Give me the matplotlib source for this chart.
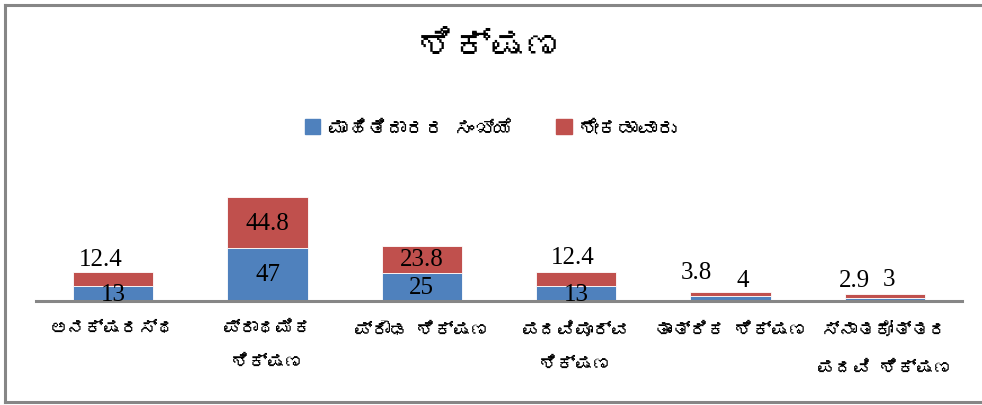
import numpy as np
import matplotlib
matplotlib.use("Agg")
import matplotlib.pyplot as plt
from matplotlib import font_manager
from matplotlib.ft2font import FT2Font
from matplotlib.patches import Rectangle
from matplotlib.lines import Line2D

# data
title = "ಶಿಕ್ಷಣ"
series_names = ["ಮಾಹಿತಿದಾರರ ಸಂಖ್ಯೆ", "ಶೇಕಡಾವಾರು"]
categories = ["ಅನಕ್ಷರಸ್ಥ", "ಪ್ರಾಥಮಿಕ\nಶಿಕ್ಷಣ", "ಪ್ರೌಢ ಶಿಕ್ಷಣ",
              "ಪದವಿಪೂರ್ವ\nಶಿಕ್ಷಣ", "ತಾಂತ್ರಿಕ ಶಿಕ್ಷಣ", "ಸ್ನಾತಕೋತ್ತರ\nಪದವಿ ಶಿಕ್ಷಣ"]
count = [13, 47, 25, 13, 4, 3]
percent = [12.4, 44.8, 23.8, 12.4, 3.8, 2.9]

# find a font that has Kannada glyphs, if any is installed
kn_font = None
for f in font_manager.fontManager.ttflist:
    try:
        if ord("ಶ") in FT2Font(f.fname).get_charmap():
            kn_font = f.name
            break
    except Exception:
        pass
kn_family = [kn_font, "DejaVu Sans"] if kn_font else ["DejaVu Sans"]
num_family = ["Liberation Serif", "DejaVu Serif"]

blue = "#4f81bd"
red = "#c0504d"
grey = "#868686"

fig = plt.figure(figsize=(9.82, 4.06), dpi=100)
# plot area in pixels: x 36..962, baseline at y=302
W, H = 982, 406
ax = fig.add_axes([36 / W, (H - 302) / H, 926 / W, 113 / H])
x = np.arange(len(categories))
ax.bar(x, count, width=0.52, color=blue, edgecolor="white", linewidth=0.6)
ax.bar(x, percent, width=0.52, bottom=count, color=red, edgecolor="white", linewidth=0.6)
ax.set_xlim(-0.5, len(categories) - 0.5)
ax.set_ylim(0, 100)
for s in ["top", "right", "left"]:
    ax.spines[s].set_visible(False)
ax.spines["bottom"].set_color(grey)
ax.spines["bottom"].set_linewidth(2.2)
ax.set_yticks([])
ax.set_xticks(x)
ax.set_xticklabels(categories, family=kn_family, fontsize=13, linespacing=2.6)
ax.tick_params(axis="x", length=0, pad=14)

# value labels (a few moved by hand like in the original)
blue_off = [(0, 0), (0, 0), (0, 0), (0, 0), (12, 19), (4, 20)]
red_off = [(-12, 20), (0, 0), (0, 0), (-3, 22), (-34, 22), (-30, 16)]
for i in range(len(categories)):
    ax.annotate(str(count[i]), (x[i], count[i] / 2), xytext=blue_off[i],
                textcoords="offset pixels", ha="center", va="center",
                fontsize=18, family=num_family)
    ax.annotate(str(percent[i]), (x[i], count[i] + percent[i] / 2), xytext=red_off[i],
                textcoords="offset pixels", ha="center", va="center",
                fontsize=18, family=num_family)

fig.text(0.5, 1 - 48 / H, title, ha="center", va="center", fontsize=26,
         fontweight="bold", family=kn_family)
handles = [Rectangle((0, 0), 1, 1, color=blue), Rectangle((0, 0), 1, 1, color=red)]
fig.legend(handles, series_names, loc="center", bbox_to_anchor=(0.5, 1 - 128 / H),
           ncol=2, frameon=False, prop={"family": kn_family, "size": 14},
           handlelength=0.8, handleheight=0.8, handletextpad=0.4, columnspacing=2.2)

# outer chart border (left, top, bottom; the right edge is cut off)
bx0, by0, by1 = 5 / W, 3 / H, 1 - 6 / H
for xs, ys in [([bx0, 1], [by1, by1]), ([bx0, bx0], [by0, by1]), ([bx0, 1], [by0, by0])]:
    fig.add_artist(Line2D(xs, ys, transform=fig.transFigure, color=grey, linewidth=2.2))

fig.savefig("out.png", dpi=100)
